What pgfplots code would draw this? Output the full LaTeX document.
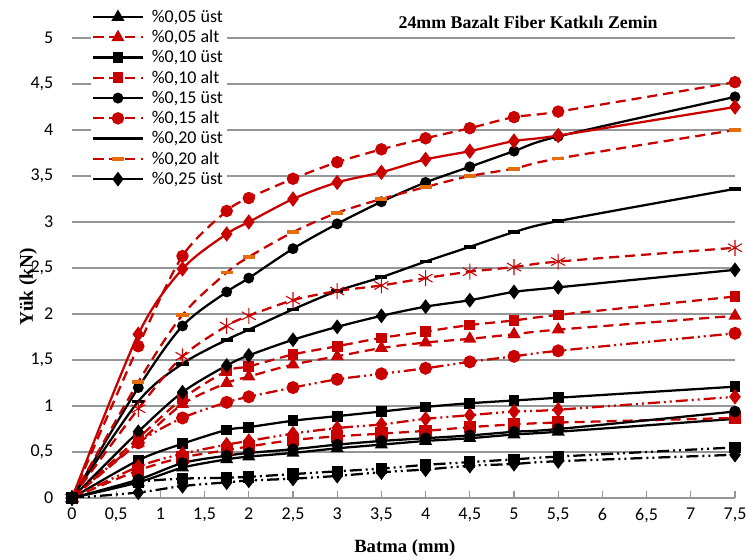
\documentclass[border=0pt]{standalone}
\usepackage{pgfplots}
\pgfplotsset{compat=1.18}
\usepackage{pgfplotstable}
\usepackage{fontspec}
\setmainfont{Carlito}
\newfontfamily\tnr{Liberation Serif}
\definecolor{dred}{RGB}{200,0,0}
\definecolor{ora}{RGB}{228,108,10}
\definecolor{gridc}{RGB}{150,150,150}

\pgfplotstableread{
x     s1    s2    s3    s4    s5    s6    s7    s8    s9    s10   s11   s12   s13   s14   s15   s16   s17
0     0     0     0     0     0     0     0     0     0     0     0     0     0     0     0     0     0
0.75  0.17  0.60  0.41  0.65  1.20  1.65  1.05  1.26  0.72  1.78  0.97  0.60  0.34  0.30  0.20  0.17  0.06
1.25  0.33  1.02  0.59  1.08  1.87  2.63  1.46  1.99  1.15  2.49  1.54  0.87  0.48  0.44  0.38  0.21  0.13
1.75  0.42  1.25  0.74  1.38  2.24  3.12  1.72  2.45  1.44  2.87  1.87  1.04  0.58  0.52  0.46  0.22  0.17
2     0.45  1.32  0.77  1.43  2.39  3.26  1.83  2.62  1.55  3.00  1.98  1.10  0.62  0.56  0.49  0.23  0.19
2.5   0.49  1.45  0.84  1.56  2.71  3.47  2.05  2.89  1.72  3.25  2.15  1.20  0.70  0.63  0.53  0.26  0.21
3     0.54  1.54  0.89  1.65  2.98  3.65  2.25  3.10  1.86  3.43  2.25  1.29  0.76  0.67  0.58  0.29  0.24
3.5   0.58  1.63  0.94  1.74  3.22  3.79  2.40  3.25  1.98  3.54  2.31  1.35  0.80  0.70  0.62  0.32  0.28
4     0.62  1.69  0.99  1.81  3.43  3.91  2.57  3.38  2.08  3.68  2.39  1.41  0.86  0.73  0.65  0.36  0.31
4.5   0.65  1.73  1.03  1.88  3.60  4.02  2.73  3.50  2.15  3.77  2.46  1.48  0.90  0.77  0.68  0.39  0.35
5     0.69  1.78  1.06  1.93  3.77  4.14  2.89  3.58  2.24  3.88  2.51  1.54  0.94  0.80  0.72  0.42  0.37
5.5   0.72  1.83  1.09  1.99  3.93  4.20  3.01  3.69  2.29  3.94  2.57  1.60  0.96  0.82  0.75  0.45  0.40
7.5   0.86  1.98  1.21  2.19  4.36  4.52  3.36  4.00  2.48  4.25  2.72  1.79  1.10  0.87  0.94  0.55  0.47
}\data

\pgfplotsset{
  bsolid/.style={black, line width=1.7pt, mark options={solid, fill=black}},
  rsolid/.style={dred, line width=1.7pt, mark options={solid, fill=dred}},
  rdash/.style={dred, line width=1.7pt, dash pattern=on 7.5pt off 4.5pt, mark options={solid, fill=dred}},
  rdd/.style={dred, line width=1.7pt, dash pattern=on 9pt off 3pt on 1.5pt off 3pt on 1.5pt off 3pt, mark options={solid, fill=dred}},
  bdd/.style={black, line width=1.7pt, dash pattern=on 9pt off 3pt on 1.5pt off 3pt on 1.5pt off 3pt, mark options={solid, fill=black}},
}

\begin{document}
\begin{tikzpicture}
\begin{axis}[
  scale only axis, width=497.25pt, height=372.6pt,
  xmin=0, xmax=7.5, ymin=0, ymax=5.4,
  axis x line*=bottom, axis y line*=left,
  y axis line style={draw=none},
  x axis line style={gridc, line width=0.8pt, -},
  xtick={0,0.5,...,7.5}, ytick={0,0.5,...,5},
  xtick align=inside, major tick length=5pt,
  xtick style={gridc, line width=0.8pt},
  ytick style={draw=none},
  ymajorgrids, grid style={gridc, line width=0.8pt},
  tick label style={font=\fontsize{13.5}{16}\selectfont},
  /pgf/number format/use comma,
  /pgf/number format/fixed,
  /pgf/number format/precision=2,
  /pgf/number format/assume math mode=true,
  yticklabel style={anchor=east, xshift=-10.5pt},
  xticklabel style={yshift=-4pt},
  xlabel={Batma (mm)}, ylabel={Yük (kN)},
  xlabel style={font=\tnr\bfseries\fontsize{14}{16}\selectfont, at={(axis description cs:0.502,-0.10)}, anchor=center},
  ylabel style={font=\tnr\bfseries\fontsize{14.5}{16}\selectfont, at={(axis description cs:-0.066,0.425)}, anchor=center},
  every axis plot/.append style={smooth, tension=0.5},
  legend cell align=left,
  legend style={at={(rel axis cs:0.028,0.991)}, anchor=north west, draw=none, fill=white,
    font=\fontsize{13.5}{15}\selectfont, row sep=0.4pt, column sep=4pt, inner sep=1pt},
  legend image code/.code={\draw[mark repeat=2,mark phase=2] plot coordinates {(0pt,0pt) (18.5pt,0pt) (37pt,0pt)};},
]
\addplot[bsolid, mark=triangle*, mark size=4pt] table[x=x,y=s1] {\data};
\addlegendentry{\%0,05 üst}
\addplot[rdash, mark=triangle*, mark size=4pt] table[x=x,y=s2] {\data};
\addlegendentry{\%0,05 alt}
\addplot[bsolid, mark=square*, mark size=3.2pt] table[x=x,y=s3] {\data};
\addlegendentry{\%0,10 üst}
\addplot[rdash, mark=square*, mark size=3.2pt] table[x=x,y=s4] {\data};
\addlegendentry{\%0,10 alt}
\addplot[bsolid, mark=*, mark size=3.2pt] table[x=x,y=s5] {\data};
\addlegendentry{\%0,15 üst}
\addplot[rdash, mark=*, mark size=3.8pt] table[x=x,y=s6] {\data};
\addlegendentry{\%0,15 alt}
\addplot[bsolid, mark=-, mark size=4.5pt, mark options={solid, line width=2.8pt}] table[x=x,y=s7] {\data};
\addlegendentry{\%0,20 üst}
\addplot[rdash, mark=-, mark size=4.5pt, mark options={solid, ora, line width=2.8pt}] table[x=x,y=s8] {\data};
\addlegendentry{\%0,20 alt}
\addplot[bsolid, mark=diamond*, mark size=4.2pt] table[x=x,y=s9] {\data};
\addlegendentry{\%0,25 üst}
\addplot[rsolid, mark=diamond*, mark size=4.4pt, forget plot] table[x=x,y=s10] {\data};
\addplot[rdash, mark=asterisk, mark size=6pt, mark options={solid, line width=0.8pt}, forget plot] table[x=x,y=s11] {\data};
\addplot[rdd, mark=*, mark size=4pt, forget plot] table[x=x,y=s12] {\data};
\addplot[rdd, mark=diamond*, mark size=4.4pt, forget plot] table[x=x,y=s13] {\data};
\addplot[rdash, mark=square*, mark size=3.8pt, forget plot] table[x=x,y=s14] {\data};
\addplot[bsolid, mark=*, mark size=3.5pt, forget plot] table[x=x,y=s15] {\data};
\addplot[bdd, mark=square*, mark size=3.4pt, forget plot] table[x=x,y=s16] {\data};
\addplot[bdd, mark=diamond*, mark size=4.4pt, forget plot] table[x=x,y=s17] {\data};
\node[font=\tnr\bfseries\fontsize{13.4}{15}\selectfont] at (axis cs:5.16,5.17) {24mm Bazalt Fiber Katkılı Zemin};
\end{axis}
\pgfresetboundingbox
\path (-54pt,-46.5pt) rectangle (505.5pt,373.5pt);
\end{tikzpicture}
\end{document}
